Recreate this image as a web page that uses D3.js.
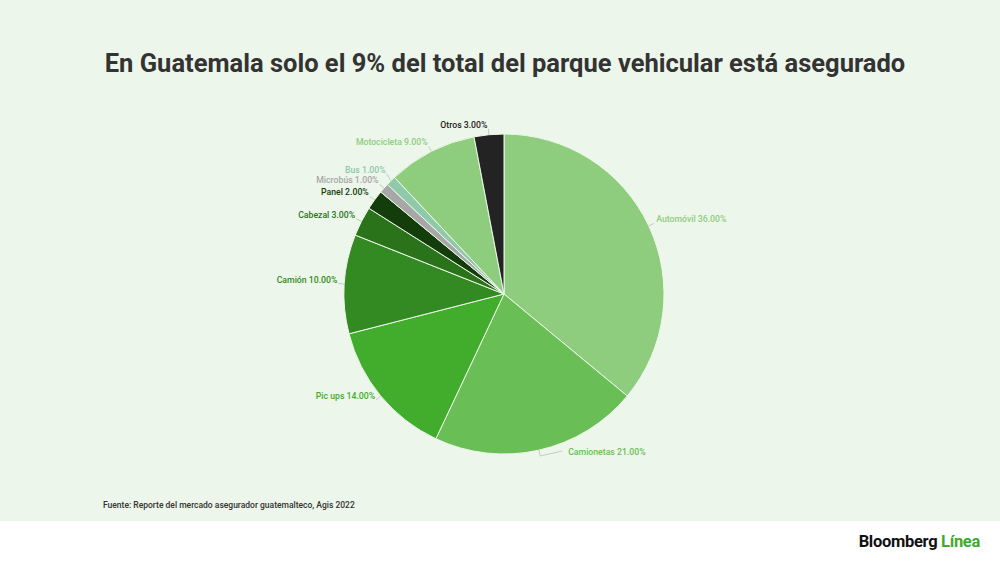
<!DOCTYPE html>
<html>
<head>
<meta charset="utf-8">
<script src="https://cdn.jsdelivr.net/npm/d3@7"></script>
<style>
  body { margin: 0; background: #fff; }
  svg { display: block; font-family: Roboto, sans-serif; }
</style>
</head>
<body>
<svg id="chart" width="1000" height="562"></svg>
<script>
// chart data
const categories = ['Automóvil', 'Camionetas', 'Pic ups', 'Camión', 'Cabezal', 'Panel', 'Microbús', 'Bus', 'Motocicleta', 'Otros'];
const shares = [36, 21, 14, 10, 3, 2, 1, 1, 9, 3];
const sliceColors = ['#8ecd7e', '#69be55', '#42ad2c', '#348a22', '#2a731b', '#143d0c', '#a7a7a7', '#8ec9aa', '#8ecd7e', '#232323'];

const title = 'En Guatemala solo el 9% del total del parque vehicular está asegurado',
    source = 'Fuente: Reporte del mercado asegurador guatemalteco, Agis 2022',
    cx = 504,
    cy = 294,
    radius = 160,
    lineGap = 10.5;

const svg = d3.select('#chart');

svg.append('rect')
    .attr('width', 1000)
    .attr('height', 521)
    .attr('fill', '#edf6ea');

svg.append('text')
    .attr('x', 505)
    .attr('y', 72)
    .attr('text-anchor', 'middle')
    .attr('font-size', 25.5)
    .attr('font-weight', 700)
    .attr('fill', '#333')
    .text(title);

const rows = categories.map((c, i) => ({ name: c, value: shares[i], color: sliceColors[i] }));

const pie = d3.pie().sort(null).value(d => d.value),
    arc = d3.arc().innerRadius(0).outerRadius(radius),
    arcs = pie(rows);

const g = svg.append('g').attr('transform', `translate(${cx},${cy})`);

g.selectAll('path.slice')
    .data(arcs)
    .join('path')
    .attr('class', 'slice')
    .attr('d', arc)
    .attr('fill', d => d.data.color)
    .attr('stroke', '#eef7ea')
    .attr('stroke-width', 1);

function mid(d) { return (d.startAngle + d.endAngle) / 2; }
function pt(a, r) { return [r * Math.sin(a), -r * Math.cos(a)]; }

// label anchors just outside the rim at each slice's middle angle
const labels = arcs.map(d => {
    const a = mid(d),
        p0 = pt(a, radius),
        p1 = pt(a, radius + 6);
    return { d, a, p0, x: p1[0], y: p1[1], right: Math.sin(a) >= 0, bottom: Math.cos(a) < -0.9 };
});

// left side: push crowded labels upward so they keep one line apart
const left = labels.filter(l => !l.right).sort((a, b) => b.y - a.y);
for (let i = 1; i < left.length; i++) {
    if (left[i - 1].y - left[i].y < lineGap) left[i].y = left[i - 1].y - lineGap;
}

labels.forEach(l => {
    const pts = [l.p0, [l.x, l.y]];
    let lx = l.x;
    if (l.bottom) {
        // bottom label: pushed sideways with a small kinked connector
        pts.push([l.x + 22, l.y - 5]);
        lx = l.x + 26;
    }
    g.append('path')
        .attr('d', d3.line()(pts))
        .attr('fill', 'none')
        .attr('stroke', '#b9c2b5')
        .attr('stroke-width', 0.8);

    g.append('text')
        .attr('x', lx + (l.right ? 2 : -1))
        .attr('y', l.y - 1)
        .attr('text-anchor', l.right ? 'start' : 'end')
        .attr('font-size', 8.7)
        .attr('font-weight', 500)
        .attr('fill', l.d.data.color)
        .text(`${l.d.data.name} ${l.d.data.value.toFixed(2)}%`);
});

svg.append('text')
    .attr('x', 103)
    .attr('y', 508)
    .attr('font-size', 8.5)
    .attr('font-weight', 500)
    .attr('fill', '#333')
    .text(source);

const logo = svg.append('text')
    .attr('x', 980)
    .attr('y', 547)
    .attr('text-anchor', 'end')
    .attr('font-size', 16.5)
    .attr('font-weight', 700)
    .attr('letter-spacing', -0.3);
logo.append('tspan').attr('fill', '#111').text('Bloomberg ');
logo.append('tspan').attr('fill', '#3dac2a').text('Línea');
</script>
</body>
</html>
